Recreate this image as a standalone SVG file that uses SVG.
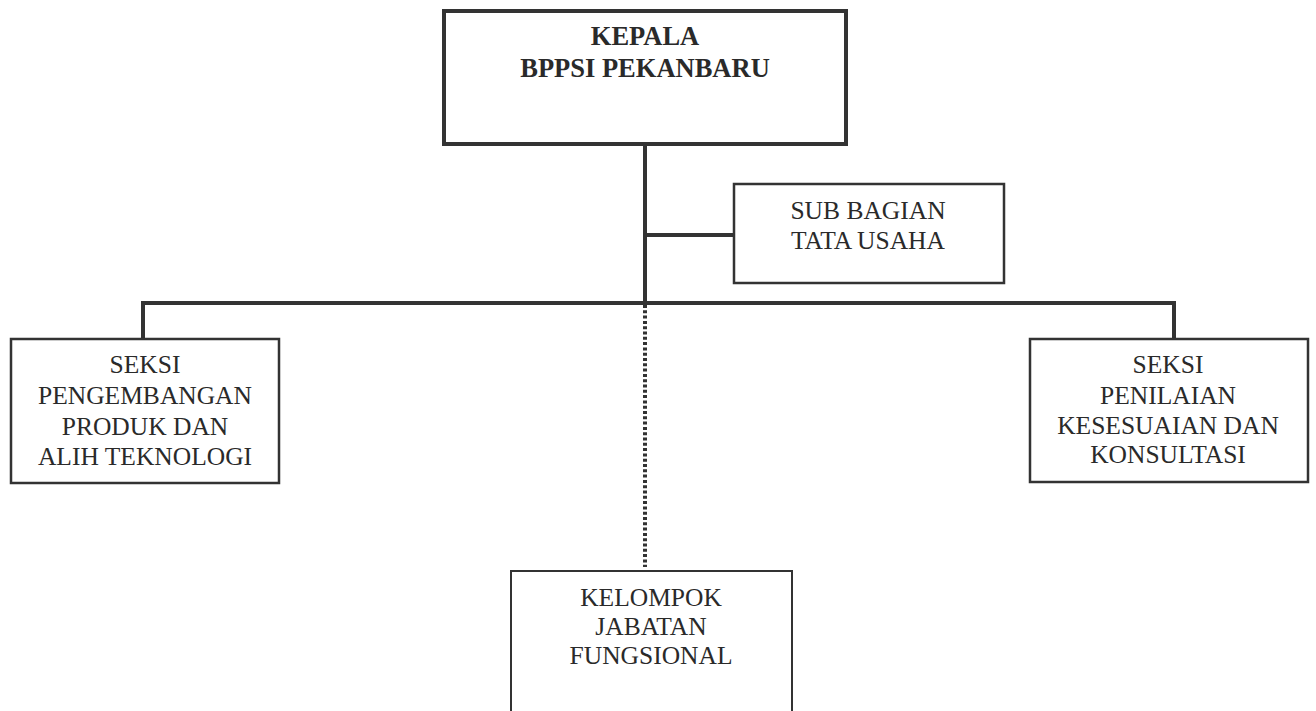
<svg xmlns="http://www.w3.org/2000/svg" width="1316" height="711" viewBox="0 0 1316 711">
<style>
.box{fill:#fff;stroke:#333;stroke-width:2.5}
.thick{stroke-width:4}
.t{font-family:"Liberation Serif","Times New Roman",serif;font-size:25.5px;fill:#2a2a2a;text-anchor:middle}
.b{font-weight:bold;font-size:26.5px}
.ln{stroke:#333;stroke-width:4;fill:none}
.dot{stroke:#333;stroke-width:4;fill:none;stroke-dasharray:3 2.3}
</style>
<rect width="1316" height="711" fill="#fff"/>
<g id="connectors">
<line class="ln" x1="645" y1="144" x2="645" y2="305"/>
<line class="ln" x1="647" y1="235" x2="733" y2="235"/>
<polyline class="ln" points="143,339 143,303 1174,303 1174,339"/>
<line class="dot" x1="645" y1="305" x2="645" y2="567"/>
</g>
<g id="kepala">
<rect class="box thick" x="444" y="11" width="402" height="133"/>
<text class="t b" x="645" y="45">KEPALA</text>
<text class="t b" x="645" y="77">BPPSI PEKANBARU</text>
</g>
<g id="subbagian">
<rect class="box" x="734" y="184" width="270" height="99"/>
<text class="t" x="868" y="219">SUB BAGIAN</text>
<text class="t" x="868" y="249">TATA USAHA</text>
</g>
<g id="seksi-pengembangan">
<rect class="box" x="11" y="339" width="268" height="144"/>
<text class="t" x="145" y="373">SEKSI</text>
<text class="t" x="145" y="404">PENGEMBANGAN</text>
<text class="t" x="145" y="435">PRODUK DAN</text>
<text class="t" x="145" y="465">ALIH TEKNOLOGI</text>
</g>
<g id="seksi-penilaian">
<rect class="box" x="1030" y="339" width="278" height="143"/>
<text class="t" x="1168" y="373">SEKSI</text>
<text class="t" x="1168" y="404">PENILAIAN</text>
<text class="t" x="1168" y="434">KESESUAIAN DAN</text>
<text class="t" x="1168" y="463">KONSULTASI</text>
</g>
<g id="kelompok">
<rect class="box" x="511" y="571" width="281" height="160" style="stroke-width:2"/>
<text class="t" x="651" y="606">KELOMPOK</text>
<text class="t" x="651" y="635">JABATAN</text>
<text class="t" x="651" y="664">FUNGSIONAL</text>
</g>
</svg>
